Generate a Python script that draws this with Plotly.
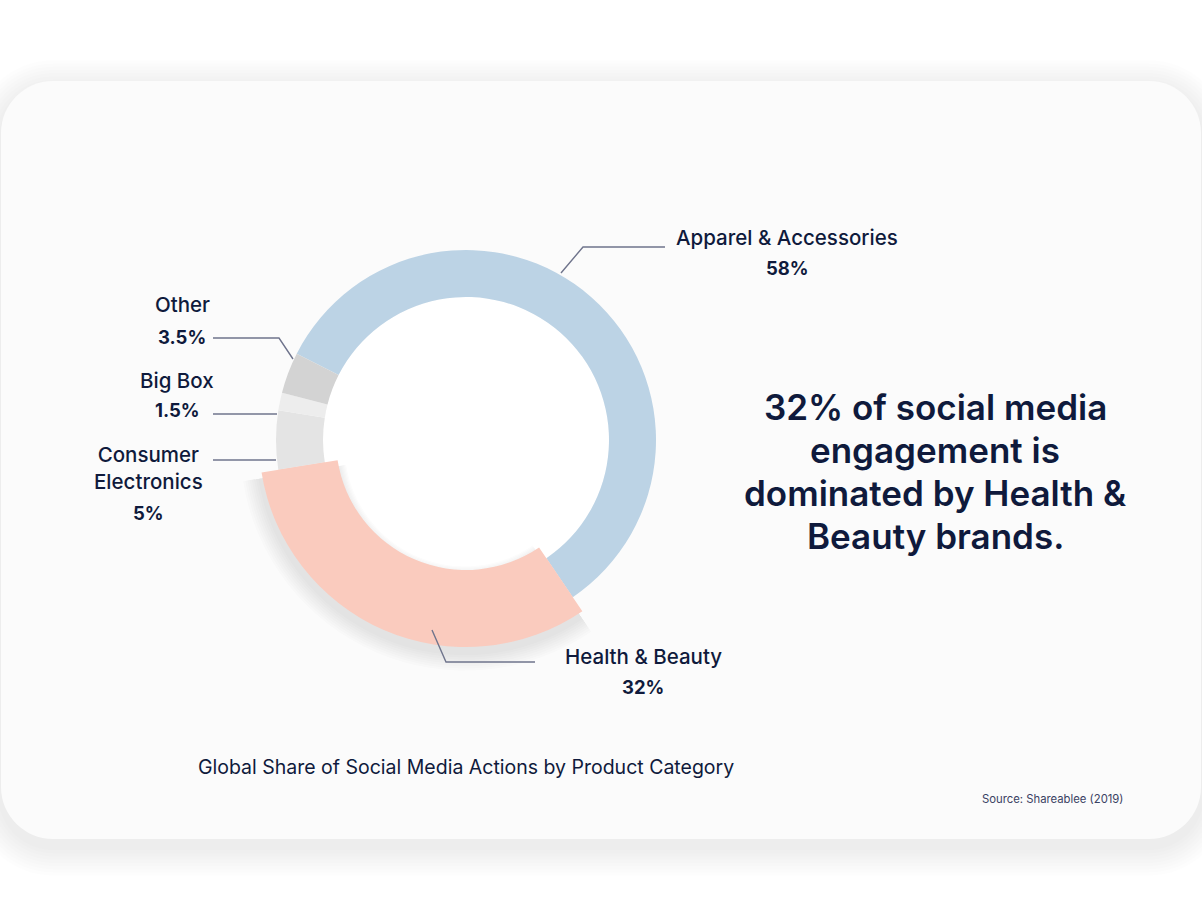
import plotly.graph_objects as go

# data
categories = ["Apparel & Accessories", "Health & Beauty", "Consumer Electronics", "Big Box", "Other"]
label_names = ["Apparel & Accessories", "Health & Beauty", "Consumer<br>Electronics", "Big Box", "Other"]
shares = [58, 32, 5, 1.5, 3.5]
colors = ["#bcd3e5", "#facbbe", "#e4e4e4", "#ededed", "#d3d3d3"]
highlight = "Health & Beauty"

title_text = "Global Share of Social Media Actions by Product Category"
source_text = "Source: Shareablee (2019)"
headline_lines = ["32% of social media", "engagement is", "dominated by Health &", "Beauty brands."]

# page geometry (pixels)
W, H = 1202, 920
CX, CY = 466, 440
R_OUT, R_IN = 190, 143
HI_OUT, HI_IN = 207, 130
ROTATION = -63

NAVY = "#0f1a3c"
LEADER = "#6f748c"
FONT = "Inter"

# label layout: name x, name y, percent y, leader line points
label_layout = {
    "Apparel & Accessories": (787, 237, 268, [(561, 273), (583, 247), (665, 247)]),
    "Health & Beauty": (643, 656, 687, [(432, 630), (446, 662), (535, 662)]),
    "Consumer Electronics": (148, 468, 513, [(276, 460), (213, 460)]),
    "Big Box": (177, 380, 410, [(277, 414), (213, 414)]),
    "Other": (182, 304, 337, [(293, 359), (279, 338), (213, 338)]),
}


def fx(x):
    return x / W


def fy(y):
    return 1 - y / H


def domain(cx, cy, r):
    return dict(x=[fx(cx - r), fx(cx + r)], y=[fy(cy + r), fy(cy - r)])


def rounded_rect(x0, y0, x1, y1, r):
    k = 0.45 * r
    p = lambda x, y: f"{fx(x):.5f},{fy(y):.5f}"
    return (
        f"M {p(x0 + r, y0)} L {p(x1 - r, y0)} "
        f"C {p(x1 - k, y0)} {p(x1, y0 + k)} {p(x1, y0 + r)} "
        f"L {p(x1, y1 - r)} "
        f"C {p(x1, y1 - k)} {p(x1 - k, y1)} {p(x1 - r, y1)} "
        f"L {p(x0 + r, y1)} "
        f"C {p(x0 + k, y1)} {p(x0, y1 - k)} {p(x0, y1 - r)} "
        f"L {p(x0, y0 + r)} "
        f"C {p(x0, y0 + k)} {p(x0 + k, y0)} {p(x0 + r, y0)} Z"
    )


fig = go.Figure()

only_hi = lambda c: [c if cat == highlight else "rgba(0,0,0,0)" for cat in categories]

# soft shadow under the highlighted slice
for k in range(1, 9):
    r_o = HI_OUT + 2.2 * k
    r_i = HI_IN - 1.2 * k
    fig.add_trace(go.Pie(
        labels=categories, values=shares, sort=False, direction="clockwise",
        rotation=ROTATION, hole=r_i / r_o, domain=domain(CX - 1, CY + 6, r_o),
        marker=dict(colors=only_hi("rgba(40,40,40,0.016)"), line=dict(width=0)),
        textinfo="none", hoverinfo="skip", showlegend=False,
    ))

# main ring
fig.add_trace(go.Pie(
    labels=categories, values=shares, sort=False, direction="clockwise",
    rotation=ROTATION, hole=R_IN / R_OUT, domain=domain(CX, CY, R_OUT),
    marker=dict(colors=colors, line=dict(width=0)),
    textinfo="none", hovertemplate="%{label}: %{value}%<extra></extra>",
    showlegend=False,
))

# enlarged highlighted slice
fig.add_trace(go.Pie(
    labels=categories, values=shares, sort=False, direction="clockwise",
    rotation=ROTATION, hole=HI_IN / HI_OUT, domain=domain(CX, CY, HI_OUT),
    marker=dict(colors=only_hi(colors[categories.index(highlight)]), line=dict(width=0)),
    textinfo="none", hoverinfo="skip", showlegend=False,
))

shapes = []
# card shadow
for i in range(1, 10):
    e = i * 3.2
    shapes.append(dict(
        type="path", xref="paper", yref="paper", layer="below",
        path=rounded_rect(1 - e, 81 - e + 8, 1201 + e, 839 + e + 8, 52 + e),
        fillcolor="rgba(0,0,0,0.009)", line=dict(width=0),
    ))
# card
shapes.append(dict(
    type="path", xref="paper", yref="paper", layer="below",
    path=rounded_rect(1, 81, 1201, 839, 52),
    fillcolor="#fbfbfb", line=dict(width=0),
))
# white centre of the donut
shapes.append(dict(
    type="circle", xref="paper", yref="paper", layer="below",
    x0=fx(CX - R_IN), x1=fx(CX + R_IN), y0=fy(CY + R_IN), y1=fy(CY - R_IN),
    fillcolor="#ffffff", line=dict(width=0),
))

annotations = []
for cat, name, val in zip(categories, label_names, shares):
    nx, ny, py_, pts = label_layout[cat]
    path = "M " + " L ".join(f"{fx(x):.5f},{fy(y):.5f}" for x, y in pts)
    shapes.append(dict(type="path", xref="paper", yref="paper", path=path,
                       line=dict(color=LEADER, width=1.4)))
    annotations.append(dict(
        x=fx(nx), y=fy(ny), xref="paper", yref="paper", text=name, showarrow=False,
        xanchor="center", yanchor="middle",
        font=dict(family=FONT, size=20.5, color=NAVY, weight=500),
    ))
    annotations.append(dict(
        x=fx(nx), y=fy(py_), xref="paper", yref="paper", text=f"{val:g}%", showarrow=False,
        xanchor="center", yanchor="middle",
        font=dict(family=FONT, size=18.5, color=NAVY, weight=700),
    ))

for i, line in enumerate(headline_lines):
    annotations.append(dict(
        x=fx(935), y=fy(407 + 43 * i), xref="paper", yref="paper", text=line, showarrow=False,
        xanchor="center", yanchor="middle",
        font=dict(family=FONT, size=35, color=NAVY, weight=600),
    ))
annotations.append(dict(
    x=fx(466), y=fy(767), xref="paper", yref="paper", text=title_text, showarrow=False,
    xanchor="center", yanchor="middle",
    font=dict(family=FONT, size=19.5, color=NAVY, weight=400),
))
annotations.append(dict(
    x=fx(1052), y=fy(799), xref="paper", yref="paper", text=source_text, showarrow=False,
    xanchor="center", yanchor="middle",
    font=dict(family=FONT, size=11.3, color="#3a4162", weight=400),
))

fig.update_layout(
    width=W, height=H,
    margin=dict(l=0, r=0, t=0, b=0),
    paper_bgcolor="#ffffff",
    plot_bgcolor="#ffffff",
    shapes=shapes,
    annotations=annotations,
    showlegend=False,
)

fig.write_html("out.html", config={"displayModeBar": False},
               post_script="document.body.style.margin='0';")
